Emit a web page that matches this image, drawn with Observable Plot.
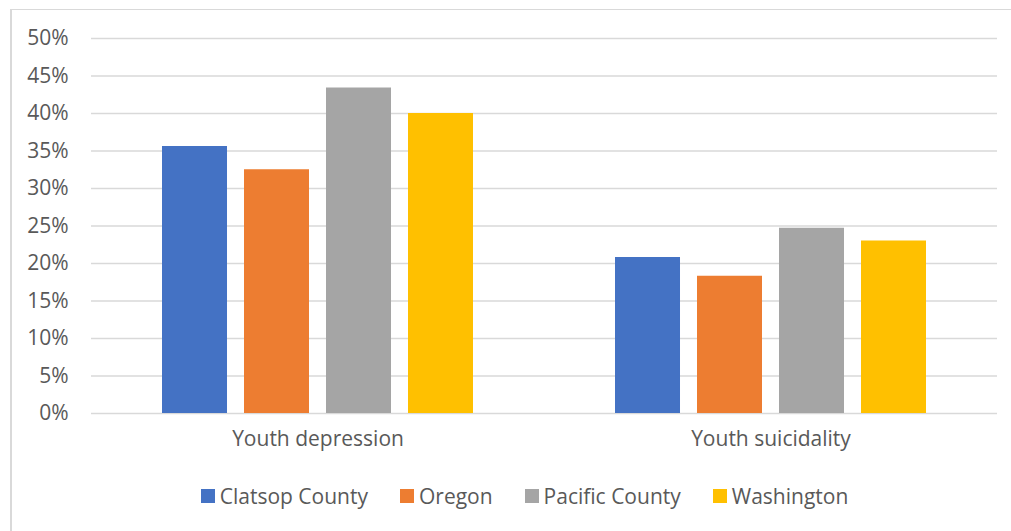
<!DOCTYPE html>
<html>
<head>
<meta charset="utf-8">
<script src="https://cdn.jsdelivr.net/npm/d3@7"></script>
<script src="https://cdn.jsdelivr.net/npm/@observablehq/plot@0.6"></script>
<style>
  html, body { margin: 0; padding: 0; background: #fff; overflow: hidden; }
  #frame { position: absolute; left: 10px; top: 9px; width: 1010px; height: 530px;
           border-left: 2px solid #d9d9d9; border-top: 1px solid #d9d9d9; }
  #chart { position: absolute; left: 0; top: 0; }
  #legend { position: absolute; left: 19px; top: 482px; width: 1011px; display: flex; justify-content: center;
            gap: 32px; font-family: "Open Sans", sans-serif; font-size: 21px; color: #595959; }
  .item { display: flex; align-items: center; }
  .sw { width: 14px; height: 14px; margin-right: 5px; }
</style>
</head>
<body>
<div id="frame"></div>
<div id="chart"></div>
<div id="legend"></div>
<script>
const categories = ["Youth depression", "Youth suicidality"];
const series = ["Clatsop County", "Oregon", "Pacific County", "Washington"];
const depression = [35.6, 32.5, 43.4, 40.0];
const suicidality = [20.8, 18.3, 24.7, 23.0];
const colors = ["#4472c4", "#ed7d31", "#a5a5a5", "#ffc000"];
const yTicks = [0, 5, 10, 15, 20, 25, 30, 35, 40, 45, 50];

const valuesByCategory = [depression, suicidality];
const data = categories.flatMap((c, i) =>
  series.map((s, j) => ({category: c, series: s, value: valuesByCategory[i][j]})));

const chart = Plot.plot({
  width: 1011,
  height: 470,
  marginLeft: 91,
  marginRight: 14,
  marginTop: 38,
  marginBottom: 57,
  style: {fontFamily: "'Open Sans', sans-serif", fontSize: "21px", color: "#595959", background: "transparent"},
  fx: {domain: categories, paddingInner: 0, paddingOuter: 0, round: false, label: null, axis: "bottom", tickSize: 0, tickPadding: 18},
  x: {domain: series, paddingInner: 0.2073, paddingOuter: 0.866, round: false, axis: null},
  y: {domain: [0, 50], ticks: yTicks, tickFormat: d => d + "%", tickSize: 0, tickPadding: 23, label: null},
  color: {domain: series, range: colors},
  marks: [
    Plot.gridY(yTicks, {stroke: "#d9d9d9", strokeOpacity: 1, strokeWidth: 1.5}),
    Plot.barY(data, {fx: "category", x: "series", y: "value", fill: "series"})
  ]
});
document.getElementById("chart").appendChild(chart);

const legend = document.getElementById("legend");
series.forEach((s, i) => {
  const item = document.createElement("div");
  item.className = "item";
  const sw = document.createElement("span");
  sw.className = "sw";
  sw.style.background = colors[i];
  const t = document.createElement("span");
  t.textContent = s;
  item.appendChild(sw);
  item.appendChild(t);
  legend.appendChild(item);
});
</script>
</body>
</html>
